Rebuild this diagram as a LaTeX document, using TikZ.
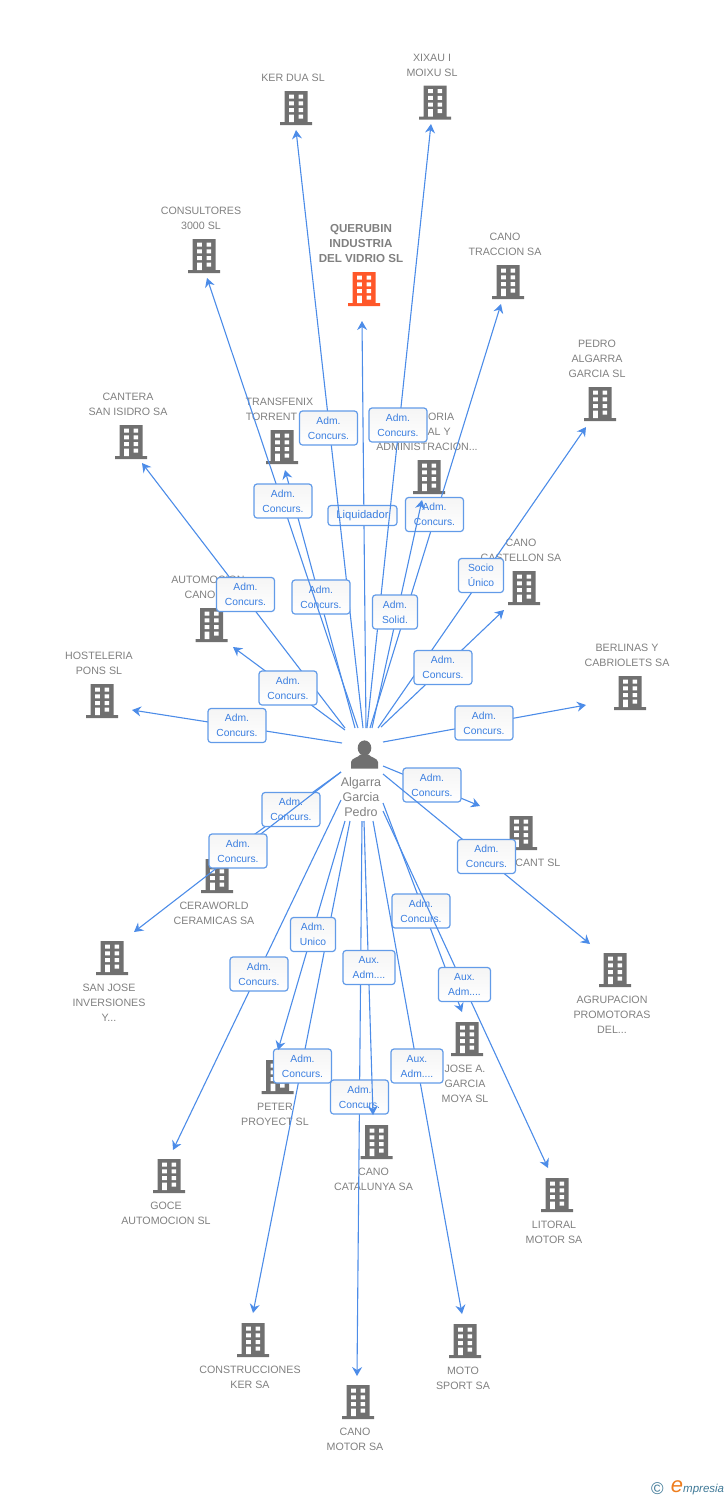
\documentclass[tikz,border=0pt]{standalone}
\usepackage{fontspec}
\setmainfont{Liberation Sans}
\usetikzlibrary{arrows.meta}
\definecolor{linkblue}{RGB}{76,140,232}
\definecolor{tagblue}{RGB}{98,155,232}
\definecolor{tagtext}{RGB}{58,126,224}
\definecolor{bldggray}{RGB}{112,112,112}
\definecolor{bldgred}{RGB}{255,87,41}
\definecolor{labelgray}{RGB}{128,128,128}
\definecolor{logoblue}{RGB}{62,120,150}
\definecolor{logoorange}{RGB}{238,125,30}
\tikzset{
  bldg/.style={rectangle, inner sep=0pt, minimum width=32, minimum height=34,
    path picture={
      \begin{scope}[shift={(path picture bounding box.center)}]
      \fill[#1] (-11.5,-17) rectangle (11.5,14) (-16,14) rectangle (16,17);
      \fill[white] (-6.8,-13.3) rectangle (-2.2,-9.3) (2.6,-13.3) rectangle (7.2,-9.3)
        (-6.8,-6.7) rectangle (-2.2,-2.7) (2.6,-6.7) rectangle (7.2,-2.7)
        (-6.8,0) rectangle (-2.2,4) (2.6,0) rectangle (7.2,4)
        (-6.8,6.7) rectangle (-2.2,14) (2.6,6.7) rectangle (7.2,10.7);
      \end{scope}}},
  bldg/.default=bldggray,
  person/.style={rectangle, inner sep=0pt, minimum width=28, minimum height=28,
    path picture={
      \begin{scope}[shift={(path picture bounding box.center)}]
      \fill[bldggray] (0,-6.5) ellipse (6.8 and 7.6);
      \fill[bldggray] (-13.5,14) -- (-13.5,7.5) .. controls (-13,3.5) and (-7,3.5) .. (-4,0)
        -- (4,0) .. controls (7,3.5) and (13,3.5) .. (13.5,7.5) -- (13.5,14) -- cycle;
      \end{scope}}},
  co/.style={text=labelgray, align=center, inner sep=0pt, yshift=-0.6pt, font=\fontsize{10.67}{15}\selectfont},
  pname/.style={text=labelgray, align=center, inner sep=0pt, font=\fontsize{12.5}{15}\selectfont},
  link/.style={-{Stealth[length=9pt,width=10pt,inset=3pt]}, draw=linkblue, line width=1.1pt},
  tag/.style={draw=tagblue, line width=1.2pt, rounded corners=3pt, top color=black!4, bottom color=white,
    text=tagtext, align=center, inner sep=0pt, minimum width=58, minimum height=34,
    font=\fontsize{10.3}{15}\selectfont},
  tagsm/.style={tag, minimum width=45},
  taglq/.style={tag, minimum width=69, minimum height=20, font=\fontsize{11.2}{15}\selectfont},
  tagaux/.style={tag, minimum width=52},
}
\begin{document}
\begin{tikzpicture}[x=1pt,y=-1pt]
\useasboundingbox (0,0) rectangle (728,1500);
% companies
\node[bldg] (kerdua) at (296,108) {};
\node[co] (kerdualbl) at (293,77) {KER DUA SL};
\node[bldg] (xixau) at (435,102.5) {};
\node[co] (xixaulbl) at (432,64.5) {XIXAU I\\MOIXU SL};
\node[bldg] (consult) at (204,256) {};
\node[co] (consultlbl) at (201,217.5) {CONSULTORES\\3000 SL};
\node[bldg=bldgred] (querubin) at (364,289) {};
\node[co, font=\fontsize{11.6}{15}\selectfont\bfseries] (querubinlbl) at (361,243) {QUERUBIN\\INDUSTRIA\\DEL VIDRIO SL};
\node[bldg] (traccion) at (508,282) {};
\node[co] (traccionlbl) at (505,243.5) {CANO\\TRACCION SA};
\node[bldg] (pedro) at (600,404) {};
\node[co] (pedrolbl) at (597,358) {PEDRO\\ALGARRA\\GARCIA SL};
\node[bldg] (cantera) at (131,442) {};
\node[co] (canteralbl) at (128,403.5) {CANTERA\\SAN ISIDRO SA};
\node[bldg] (transfenix) at (282,447) {};
\node[co] (transfenixlbl) at (279.5,408.5) {TRANSFENIX\\TORRENT\phantom{ SL}};
\node[bldg] (admin) at (429,477) {};
\node[co] (adminlbl) at (427,431) {\phantom{ASES}ORIA\\\phantom{FISC}AL Y\\ADMINISTRACION...};
\node[bldg] (castellon) at (524,588) {};
\node[co] (castellonlbl) at (521,549.5) {CANO\\CASTELLON SA};
\node[bldg] (automocion) at (211.5,625) {};
\node[co] (automocionlbl) at (208,586.5) {AUTOMOCION\\CANO\phantom{ SL}};
\node[bldg] (berlinas) at (630,693) {};
\node[co] (berlinaslbl) at (627,654.5) {BERLINAS Y\\CABRIOLETS SA};
\node[bldg] (hosteleria) at (102,701) {};
\node[co] (hostelerialbl) at (99,662.5) {HOSTELERIA\\PONS SL};
\node[bldg] (alicant) at (521,833) {};
\node[co] (alicantlbl) at (521,862) {\phantom{CANO }CANT SL};
\node[bldg] (ceraworld) at (217,876) {};
\node[co] (ceraworldlbl) at (214,912.5) {CERAWORLD\\CERAMICAS SA};
\node[bldg] (sanjose) at (112,958) {};
\node[co] (sanjoselbl) at (109,1002) {SAN JOSE\\INVERSIONES\\Y...};
\node[bldg] (agrupacion) at (615,970) {};
\node[co] (agrupacionlbl) at (612,1014) {AGRUPACION\\PROMOTORAS\\DEL...};
\node[bldg] (garcia) at (467,1039) {};
\node[co] (garcialbl) at (465,1083) {JOSE A.\\GARCIA\\MOYA SL};
\node[bldg] (peter) at (277.5,1077) {};
\node[co] (peterlbl) at (275,1113.5) {PETER\\PROYECT SL};
\node[bldg] (catalunya) at (376.5,1142) {};
\node[co] (catalunyalbl) at (373.5,1178.5) {CANO\\CATALUNYA SA};
\node[bldg] (goce) at (169,1176) {};
\node[co] (gocelbl) at (166,1212.5) {GOCE\\AUTOMOCION SL};
\node[bldg] (litoral) at (557,1195) {};
\node[co] (litorallbl) at (554,1231.5) {LITORAL\\MOTOR SA};
\node[bldg] (constr) at (253,1340) {};
\node[co] (constrlbl) at (250,1376.5) {CONSTRUCCIONES\\KER SA};
\node[bldg] (moto) at (465,1341) {};
\node[co] (motolbl) at (463,1377.5) {MOTO\\SPORT SA};
\node[bldg] (motor) at (358,1402) {};
\node[co] (motorlbl) at (355,1438.5) {CANO\\MOTOR SA};
% person
\node[person] (algarra) at (364.5,754.5) {};
\node[pname] (algarralbl) at (361,797) {Algarra\\Garcia\\Pedro};
% link ends
\coordinate (kerduaS) at (363,728);
\coordinate (kerduaT) at (296,130);
\coordinate (xixauS) at (367,728);
\coordinate (xixauT) at (431,124);
\coordinate (consultS) at (358,728);
\coordinate (consultT) at (207,278);
\coordinate (querubinS) at (366,728);
\coordinate (querubinT) at (362,321);
\coordinate (traccionS) at (370,728);
\coordinate (traccionT) at (501,304);
\coordinate (transfenixS) at (355,728);
\coordinate (transfenixT) at (285,470);
\coordinate (adminS) at (372,728);
\coordinate (adminT) at (422,500);
\coordinate (pedroS) at (378,728);
\coordinate (pedroT) at (586,427);
\coordinate (castellonS) at (381,727);
\coordinate (castellonT) at (504,610);
\coordinate (berlinasS) at (383,742);
\coordinate (berlinasT) at (586,705);
\coordinate (canteraS) at (345,728);
\coordinate (canteraT) at (142,463);
\coordinate (automocionS) at (345,730);
\coordinate (automocionT) at (233,647);
\coordinate (hosteleriaS) at (342,743);
\coordinate (hosteleriaT) at (132,710);
\coordinate (alicantS) at (383,766);
\coordinate (alicantT) at (480,806);
\coordinate (agrupacionS) at (383,774);
\coordinate (agrupacionT) at (590,944);
\coordinate (garciaS) at (383,803);
\coordinate (garciaT) at (462,1012);
\coordinate (litoralS) at (383,811);
\coordinate (litoralT) at (548,1168);
\coordinate (motoS) at (373,821);
\coordinate (motoT) at (462,1314);
\coordinate (motorS) at (362,821);
\coordinate (motorT) at (357,1376);
\coordinate (catalunyaS) at (364,821);
\coordinate (catalunyaT) at (373,1115);
\coordinate (constrS) at (350,821);
\coordinate (constrT) at (253,1313);
\coordinate (peterS) at (345,821);
\coordinate (peterT) at (278,1050);
\coordinate (goceS) at (341,800);
\coordinate (goceT) at (173,1150);
\coordinate (ceraworldS) at (341,772);
\coordinate (ceraworldT) at (230,852);
\coordinate (sanjoseS) at (341,772);
\coordinate (sanjoseT) at (134,932);
% links, each with its tag
\path (querubinS) edge[link] (querubinT);
\node[taglq] (querubintag) at (362.5,515.5) {Liquidador};
\path (kerduaS) edge[link] (kerduaT);
\node[tag] (kerduatag) at (328.5,428) {Adm.\\Concurs.};
\path (xixauS) edge[link] (xixauT);
\node[tag] (xixautag) at (398,425) {Adm.\\Concurs.};
\path (transfenixS) edge[link] (transfenixT);
\node[tag] (transfenixtag) at (321,597) {Adm.\\Concurs.};
\path (consultS) edge[link] (consultT);
\node[tag] (consulttag) at (283,501) {Adm.\\Concurs.};
\path (traccionS) edge[link] (traccionT);
\node[tag] (tracciontag) at (434.5,514.5) {Adm.\\Concurs.};
\path (adminS) edge[link] (adminT);
\node[tagsm] (admintag) at (395,612) {Adm.\\Solid.};
\path (pedroS) edge[link] (pedroT);
\node[tagsm] (pedrotag) at (481,575.5) {Socio\\Único};
\path (castellonS) edge[link] (castellonT);
\node[tag] (castellontag) at (443,667.5) {Adm.\\Concurs.};
\path (berlinasS) edge[link] (berlinasT);
\node[tag] (berlinastag) at (484,723) {Adm.\\Concurs.};
\path (canteraS) edge[link] (canteraT);
\node[tag] (canteratag) at (245.5,594.5) {Adm.\\Concurs.};
\path (automocionS) edge[link] (automocionT);
\node[tag] (automociontag) at (288,688) {Adm.\\Concurs.};
\path (hosteleriaS) edge[link] (hosteleriaT);
\node[tag] (hosteleriatag) at (237,725.5) {Adm.\\Concurs.};
\path (alicantS) edge[link] (alicantT);
\node[tag] (alicanttag) at (432,785) {Adm.\\Concurs.};
\path (agrupacionS) edge[link] (agrupacionT);
\node[tag] (agrupaciontag) at (486.5,856.5) {Adm.\\Concurs.};
\path (garciaS) edge[link] (garciaT);
\node[tag] (garciatag) at (421,911) {Adm.\\Concurs.};
\path (litoralS) edge[link] (litoralT);
\node[tagaux] (litoraltag) at (464.5,984.5) {Aux.\\Adm....};
\path (motoS) edge[link] (motoT);
\node[tagaux] (mototag) at (417,1066) {Aux.\\Adm....};
\path (motorS) edge[link] (motorT);
\node[tag] (motortag) at (359.5,1097) {Adm.\\Concurs.};
\path (catalunyaS) edge[link] (catalunyaT);
\node[tagaux] (catalunyatag) at (369,967.5) {Aux.\\Adm....};
\path (constrS) edge[link] (constrT);
\node[tag] (constrtag) at (302.5,1066) {Adm.\\Concurs.};
\path (peterS) edge[link] (peterT);
\node[tagsm] (petertag) at (313,934.5) {Adm.\\Unico};
\path (goceS) edge[link] (goceT);
\node[tag] (gocetag) at (259,974) {Adm.\\Concurs.};
\path (ceraworldS) edge[link] (ceraworldT);
\node[tag] (ceraworldtag) at (291,809.5) {Adm.\\Concurs.};
\path (sanjoseS) edge[link] (sanjoseT);
\node[tag] (sanjosetag) at (238,851) {Adm.\\Concurs.};
% logo
\node[text=logoblue, inner sep=0pt, font=\fontsize{17}{17}\selectfont] (copysign) at (657.5,1488.5) {©};
\node[text=logoorange, inner sep=0pt, font=\fontsize{22}{22}\selectfont\itshape] (logoe) at (677,1487) {e};
\node[text=logoblue, inner sep=0pt, anchor=west, font=\fontsize{11.5}{12}\selectfont\itshape] (logotxt) at (683,1490) {mpresia};
\end{tikzpicture}
\end{document}
